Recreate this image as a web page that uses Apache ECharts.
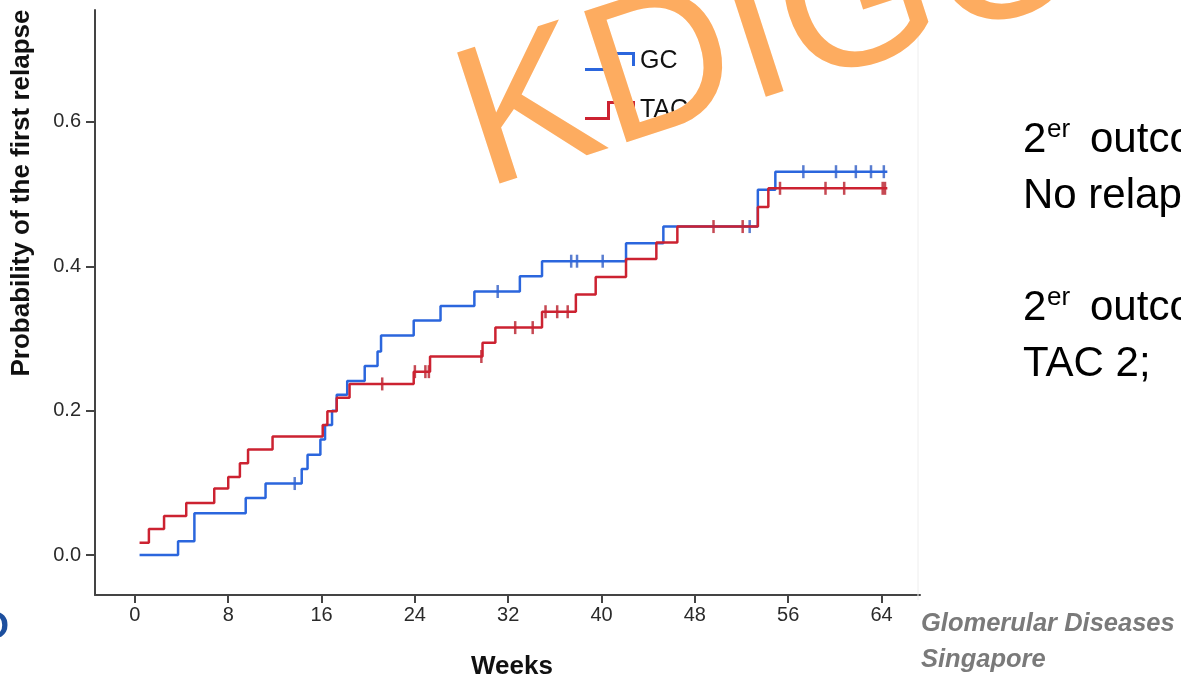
<!DOCTYPE html>
<html>
<head>
<meta charset="utf-8">
<script src="https://cdn.jsdelivr.net/npm/echarts@6/dist/echarts.min.js"></script>
<style>
html, body { margin: 0; padding: 0; background: #fff; }
#main { width: 1181px; height: 681px; }
</style>
</head>
<body>
<div id="main"></div>
<script>
'use strict';
// GC: weeks of each event and probability after it
var gcWeeks = [0.4, 3.7, 5.1, 9.5, 11.2, 14.3, 14.8, 15.9, 16.3, 16.9, 17.3, 18.2, 19.7, 20.8, 21.1, 23.9, 26.2, 29.1, 33.0, 34.9, 42.1, 45.3, 53.4, 54.9, 64.5];
var gcProb = [0.0, 0.019, 0.058, 0.079, 0.099, 0.119, 0.139, 0.16, 0.18, 0.20, 0.222, 0.241, 0.262, 0.282, 0.304, 0.325, 0.345, 0.365, 0.386, 0.407, 0.432, 0.455, 0.506, 0.531, 0.531];
var gcCensorWeeks = [13.7, 31.1, 37.4, 37.9, 40.1, 52.7, 57.3, 60.1, 61.8, 63.1, 64.2];
var gcCensorProb = [0.099, 0.365, 0.407, 0.407, 0.407, 0.455, 0.531, 0.531, 0.531, 0.531, 0.531];

// TAC
var tacWeeks = [0.4, 1.2, 2.5, 4.4, 6.8, 8.0, 9.0, 9.7, 11.8, 16.1, 16.5, 17.3, 18.4, 23.9, 25.3, 29.8, 30.9, 34.9, 37.8, 39.5, 42.1, 44.7, 46.5, 53.4, 54.3, 64.5];
var tacProb = [0.017, 0.036, 0.054, 0.072, 0.092, 0.108, 0.127, 0.146, 0.164, 0.18, 0.199, 0.218, 0.237, 0.254, 0.275, 0.294, 0.315, 0.337, 0.361, 0.385, 0.41, 0.433, 0.455, 0.482, 0.508, 0.508];
var tacCensorWeeks = [21.2, 24.0, 24.9, 25.2, 29.7, 32.6, 34.1, 35.2, 36.2, 37.1, 49.6, 52.1, 55.3, 59.2, 60.8, 64.1, 64.3];
var tacCensorProb = [0.237, 0.254, 0.254, 0.254, 0.275, 0.315, 0.315, 0.337, 0.337, 0.337, 0.455, 0.455, 0.508, 0.508, 0.508, 0.508, 0.508];

var xTicks = [0, 8, 16, 24, 32, 40, 48, 56, 64];
var yTicks = [0, 0.2, 0.4, 0.6];

var blue = '#2b66dd';
var red = '#cc2231';
var axisColor = '#444';
var stepIcon = 'path://M0,18 L22,18 L22,2 L50,2 L50,16 L47,16 L47,5 L25,5 L25,21 L0,21 Z';

function pairs(xs, ys) {
    var out = [];
    for (var i = 0; i < xs.length; i++) {
        out.push([xs[i], ys[i]]);
    }
    return out;
}

function txt(x, y, text, size, opts) {
    opts = opts || {};
    return {
        type: 'text',
        x: x,
        y: y,
        z: opts.z || 10,
        rotation: opts.rotation || 0,
        style: {
            text: text,
            fill: opts.color || '#000',
            font: (opts.style || '') + ' ' + (opts.weight || 'normal') + ' ' + size + 'px "Liberation Sans", Arial, sans-serif',
            align: opts.align || 'left',
            verticalAlign: 'middle'
        }
    };
}

var myChart = echarts.init(document.getElementById('main'));
var option = {
    backgroundColor: '#fff',
    animation: false,
    grid: {
        left: 95,
        right: 261,
        top: 10,
        bottom: 86,
        outerBoundsMode: 'none'
    },
    legend: {
        left: 580,
        top: 44,
        orient: 'vertical',
        itemWidth: 50,
        itemHeight: 22,
        itemGap: 24,
        textStyle: { fontSize: 25, color: '#111', fontFamily: 'Liberation Sans' },
        data: [
            { name: 'GC', icon: stepIcon },
            { name: 'TAC', icon: stepIcon }
        ]
    },
    xAxis: {
        type: 'value',
        min: -3.42,
        max: 67.3,
        axisLine: { show: true, onZero: false, lineStyle: { color: axisColor, width: 2 } },
        axisTick: { show: true, customValues: xTicks, length: 8, lineStyle: { color: axisColor, width: 2 } },
        axisLabel: { customValues: xTicks, fontSize: 20, color: '#2a2a2a', margin: 10, fontFamily: 'Liberation Sans' },
        splitLine: { show: false }
    },
    yAxis: {
        type: 'value',
        min: -0.0554,
        max: 0.755,
        axisLine: { show: true, onZero: false, lineStyle: { color: axisColor, width: 2 } },
        axisTick: { show: true, customValues: yTicks, length: 9, lineStyle: { color: axisColor, width: 2 } },
        axisLabel: {
            customValues: yTicks, fontSize: 20, color: '#2a2a2a', margin: 14, fontFamily: 'Liberation Sans',
            formatter: function (v) { return v.toFixed(1); }
        },
        splitLine: { show: false }
    },
    series: [
        {
            name: 'GC', type: 'line', step: 'end', showSymbol: false,
            color: blue, lineStyle: { color: blue, width: 2.5 },
            data: pairs(gcWeeks, gcProb)
        },
        {
            name: 'TAC', type: 'line', step: 'end', showSymbol: false,
            color: red, lineStyle: { color: red, width: 2.5 },
            data: pairs(tacWeeks, tacProb)
        },
        {
            name: 'GC', type: 'scatter', symbol: 'rect', symbolSize: [2.5, 13],
            itemStyle: { color: '#2f5cc4' },
            data: pairs(gcCensorWeeks, gcCensorProb)
        },
        {
            name: 'TAC', type: 'scatter', symbol: 'rect', symbolSize: [2.5, 13],
            itemStyle: { color: '#b81c28' },
            data: pairs(tacCensorWeeks, tacCensorProb)
        }
    ],
    graphic: [
        txt(22, 193, 'Probability of the first relapse', 26, { weight: 'bold', color: '#111', align: 'center', rotation: Math.PI / 2 }),
        txt(512, 667, 'Weeks', 26, { weight: 'bold', color: '#111', align: 'center' }),
        { type: 'line', z: 5, shape: { x1: 918, y1: 0, x2: 918, y2: 600 }, style: { stroke: '#eeeeee', lineWidth: 1 } },
        // right side notes
        txt(1023, 140, '2', 42),
        txt(1047, 130, 'er', 26),
        txt(1090, 140, 'outcome', 42),
        txt(1023, 196, 'No relapse', 42),
        txt(1023, 308, '2', 42),
        txt(1047, 298, 'er', 26),
        txt(1090, 308, 'outcome', 42),
        txt(1023, 364, 'TAC 2;', 42),
        txt(921, 624, 'Glomerular Diseases', 25.5, { style: 'italic', weight: 'bold', color: '#7a7a7a' }),
        txt(921, 660, 'Singapore', 25.5, { style: 'italic', weight: 'bold', color: '#7a7a7a' }),
        txt(-19, 628, 'O', 36, { weight: 'bold', color: '#1d4f9e' }),
        // watermark
        txt(467, 136, 'KDIGO', 200, { color: '#fdac60', rotation: 18 * Math.PI / 180, z: 100 })
    ]
};
myChart.setOption(option);
</script>
</body>
</html>
